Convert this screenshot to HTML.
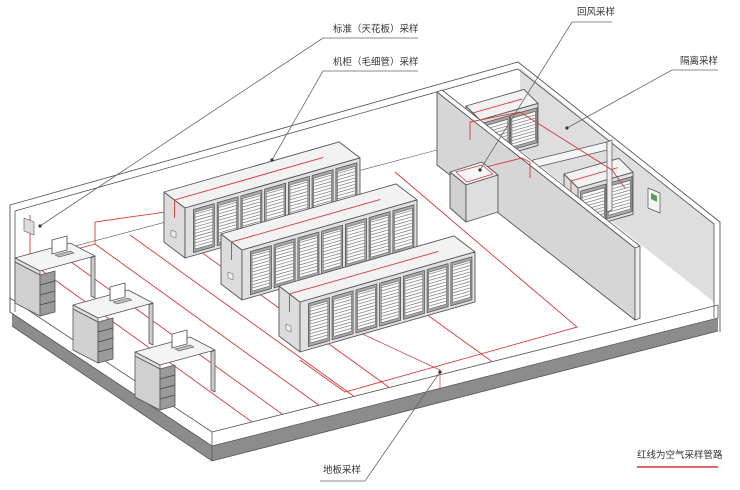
<!DOCTYPE html>
<html><head><meta charset="utf-8">
<style>
html,body{margin:0;padding:0;background:#fff;}
svg{display:block;}
text{font-family:"Liberation Sans","Noto Sans CJK SC",sans-serif;font-size:9.5px;fill:#333;}
</style></head>
<body>
<svg id="s" width="740" height="490" viewBox="0 0 740 490" xmlns="http://www.w3.org/2000/svg">
<g id="g"></g>
<text x="333" y="32">标准（天花板）采样</text>
<text x="333" y="65">机柜（毛细管）采样</text>
<text x="577" y="15">回风采样</text>
<text x="680" y="64">隔离采样</text>
<text x="323" y="473">地板采样</text>
<text x="637" y="458">红线为空气采样管路</text>
</svg>
<script>
var g=document.getElementById('g');var out='';
function poly(pts,fill,stroke,w){out+='<polygon points="'+pts.map(function(p){return p[0].toFixed(1)+','+p[1].toFixed(1)}).join(' ')+'" fill="'+fill+'" stroke="'+(stroke||'none')+'" stroke-width="'+(w||1)+'" stroke-linejoin="round"/>';}
function line(a,b,c,w){out+='<line x1="'+a[0].toFixed(1)+'" y1="'+a[1].toFixed(1)+'" x2="'+b[0].toFixed(1)+'" y2="'+b[1].toFixed(1)+'" stroke="'+c+'" stroke-width="'+(w||1)+'"/>';}
function pl(pts,c,w){out+='<polyline points="'+pts.map(function(p){return p.join(',')}).join(' ')+'" fill="none" stroke="'+c+'" stroke-width="'+(w||1)+'"/>';}
var R='#d33a3a',K='#555';
// slab
poly([[12,312],[212,446],[718,318],[718,331],[212,461],[12,326]],'#8c8c8c');
poly([[10,298],[212,432],[718,305],[718,318],[212,446],[10,312]],'#fff',K,0.8);
pl([[12,326],[212,461],[718,331]],K,0.8);
line([212,432],[212,461],K,0.8);
// right back wall gray
poly([[520,68],[714,224],[714,302],[520,150]],'#dedede');
// back walls outline
pl([[10,205],[518,62],[720,222],[720,332]],K,0.9);
pl([[15,211],[518,69],[714,224],[714,318]],K,0.8);
line([10,205],[10,312],K,0.9);line([15,211],[15,312],K,0.8);
pl([[15,262],[437,150]],K,0.6);
// floor red lines
function fl(xs,ys){var s=0.72;var m=-0.2534;var b=432;var x=(b-m*212-ys+s*xs)/(s-m);var y=ys+s*(x-xs);pl([[xs,ys],[x.toFixed(1),y.toFixed(1)]],R,0.9);}
pl([[30,262],[30,215]],R,0.9);
pl([[30,262],[95,244]],R,0.9);
fl(30,262);fl(60,254);fl(95,244);fl(130,235);fl(165,226);fl(265,198);
pl([[95,244],[95,222],[265,198]],R,0.9);
pl([[395,172],[577,327],[345,392],[300,360]],R,0.9);
pl([[300,305],[440,370],[440,390]],R,0.7);
// desks
function desk(x,y){
 poly([[x,y],[x+55,y-15],[x+80,y-2],[x+25,y+13]],'#f4f4f4',K,0.8);
 poly([[x,y],[x+25,y+13],[x+25,y+17],[x,y+4]],'#ddd',K,0.8);
 poly([[x,y+4],[x+25,y+17],[x+25,y+58],[x,y+45]],'#d0d0d0',K,0.8);
 poly([[x+25,y+17],[x+40,y+13],[x+40,y+54],[x+25,y+58]],'#9a9a9a',K,0.8);
 for(var i=1;i<4;i++)line([x+25,y+17+i*10],[x+40,y+13+i*10],'#444',0.8);
 poly([[x+80,y-2],[x+80,y+40],[x+76,y+38],[x+76,y]],'#ccc',K,0.8);
 poly([[x+37,y-18],[x+52,y-22],[x+52,y-8],[x+37,y-4]],'#fff',K,0.9);
 poly([[x+40,y-3],[x+55,y-7],[x+59,y-5],[x+44,y-1]],'#bbb',K,0.6);
}
desk(15,258);desk(73,305);desk(135,352);
// racks
function rack(bx,by,len,H,n,dx,dy){
 var ux=len,uy=-0.286*len;
 var bl=[bx,by],br=[bx+ux,by+uy],tr=[br[0],br[1]-H],tl=[bx,by-H];
 poly([bl,tl,[tl[0]+dx,tl[1]+dy],[bl[0]+dx,bl[1]+dy]],'#dcdcdc',K,0.9);
 poly([tl,tr,[tr[0]+dx,tr[1]+dy],[tl[0]+dx,tl[1]+dy]],'#f2f2f2',K,0.9);
 poly([bl,br,tr,tl],'#e0e0e0',K,0.9);
 var w=0.95/n;
 for(var i=0;i<n;i++){
  var t0=0.04+i*w+0.008,t1=0.04+(i+1)*w-0.008;
  var p=function(t,h){return [bx+ux*t,by+uy*t-h];};
  poly([p(t0,3),p(t1,3),p(t1,H-4),p(t0,H-4)],'#a8a8a8','#555',0.8);
  var e=0.018*(175/len)*0.5;
  poly([p(t0+e,6),p(t1-e,6),p(t1-e,H-7),p(t0+e,H-7)],'#fbfbfb','#666',0.6);
  for(var h=9;h<H-7;h+=3.2){line(p(t0+e,h),p(t1-e,h),'#7a7a7a',0.7);}
 }
 pl([[bx+dx*0.5,by-H+dy*0.5+18],[bx+dx*0.5,by-H+dy*0.5],[bx+dx*0.5+ux*0.85,by-H+dy*0.5+uy*0.85]],R,0.9);
 poly([[bx-14,by-H+22],[bx-9,by-H+24],[bx-9,by-H+30],[bx-14,by-H+28]],'#eee',K,0.5);
}
rack(185,258,175,50,7,-21,-16);
rack(242,300,175,50,7,-21,-16);
rack(300,352,175,50,7,-21,-16);
// right room racks
rack(480,162,58,42,2,-14,-14);
rack(578,230,55,42,2,-14,-14);
// wall sensor
poly([[24,218],[34,222],[34,235],[24,231]],'#ddd',K,0.6);
// middle short partition
poly([[533,160],[607,142],[607,150],[533,168]],'#f4f4f4',K,0.8);
// partition 1
poly([[437,92],[635,248],[635,320],[437,165]],'#d6d6d6',K,0.9);
poly([[437,92],[442,90],[640,246],[635,248]],'#fff',K,0.8);
poly([[635,248],[640,246],[640,318],[635,320]],'#eee',K,0.8);
// right partition segment
poly([[607,142],[612,140],[612,210],[607,212]],'#eee',K,0.7);
// red on partitions
pl([[470,140],[470,122],[520,112],[612,170],[625,188]],R,0.9);
pl([[482,168],[522,158],[530,162],[530,178]],R,0.9);
poly([[648,188],[660,193],[660,213],[648,208]],'#f4f4f4',K,0.7);
poly([[651,193],[657,196],[657,202],[651,199]],'#5aa05a');
// AC unit
poly([[450,172],[482,162],[498,175],[466,185]],'#f0f0f0',K,0.9);
poly([[456,172],[482,165],[493,174],[467,182]],'#f6f6f6',R,0.7);
poly([[450,172],[466,185],[466,222],[450,208]],'#d0d0d0',K,0.9);
poly([[466,185],[498,175],[498,212],[466,222]],'#dedede',K,0.9);
// leaders
var L='#666';
pl([[418,38],[323,38],[40,226]],L,0.8);
pl([[418,71],[323,71],[272,160]],L,0.8);
pl([[612,22],[572,22],[480,170]],L,0.8);
pl([[718,70],[672,70],[567,128]],L,0.8);
pl([[320,481],[365,481],[440,372]],L,0.8);
[[40,226],[272,160],[480,170],[567,128],[440,372]].forEach(function(p){out+='<circle cx="'+p[0]+'" cy="'+p[1]+'" r="1.6" fill="#333"/>';});
line([637,467],[718,467],R,1.5);
g.innerHTML=out;
</script>
</body></html>
